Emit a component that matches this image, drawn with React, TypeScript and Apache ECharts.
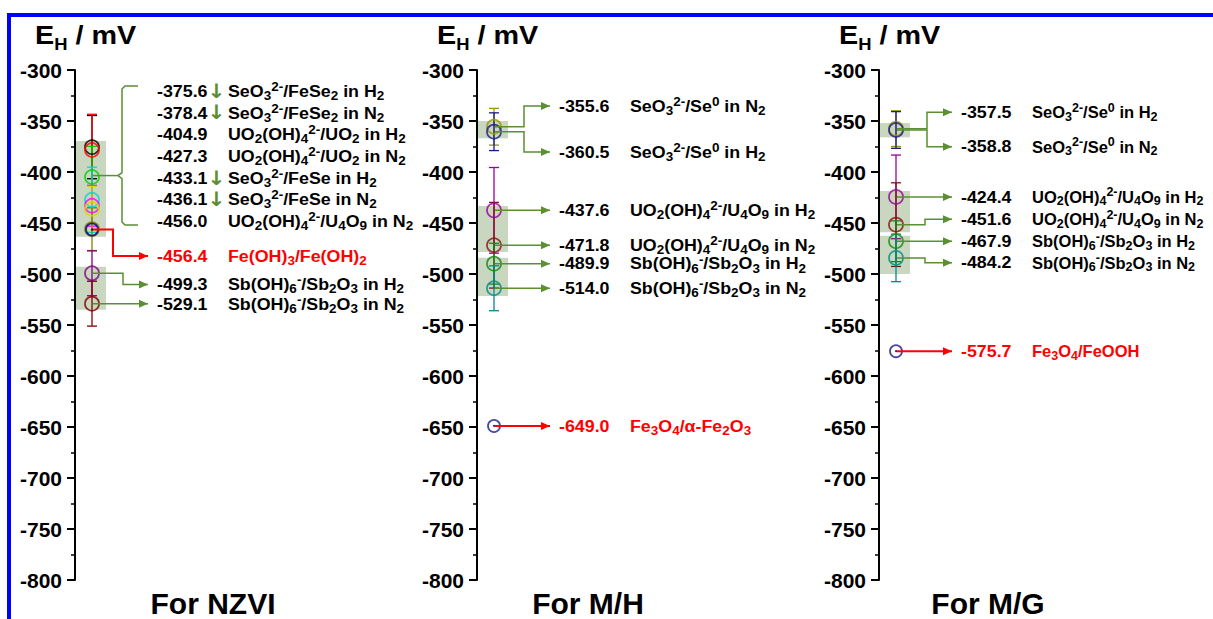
import { useEffect, useRef } from 'react';
import * as echarts from 'echarts';

// ---------- data ----------
const axisMin = -800;
const axisMax = -300;
const axisStep = 50;

const panelNames = ['For NZVI', 'For M/H', 'For M/G'];

// NZVI
const nzviValues = [-375.6, -378.4, -404.9, -427.3, -433.1, -436.1, -456.0, -456.4, -499.3, -529.1];
const nzviErrors = [31, 35, 30, 32, 20, 22, 21, 0, 22, 22];
const nzviCouples = [
  'SeO{b|3}{p|2-}/FeSe{b|2} in H{b|2}',
  'SeO{b|3}{p|2-}/FeSe{b|2} in N{b|2}',
  'UO{b|2}(OH){b|4}{p|2-}/UO{b|2} in H{b|2}',
  'UO{b|2}(OH){b|4}{p|2-}/UO{b|2} in N{b|2}',
  'SeO{b|3}{p|2-}/FeSe in H{b|2}',
  'SeO{b|3}{p|2-}/FeSe in N{b|2}',
  'UO{b|2}(OH){b|4}{p|2-}/U{b|4}O{b|9} in N{b|2}',
  'Fe(OH){b|3}/Fe(OH){b|2}',
  'Sb(OH){b|6}{p|-}/Sb{b|2}O{b|3} in H{b|2}',
  'Sb(OH){b|6}{p|-}/Sb{b|2}O{b|3} in N{b|2}',
];
const nzviDown = [true, true, false, false, true, true, false, false, false, false];
const nzviIron = [false, false, false, false, false, false, false, true, false, false];
const nzviColors = ['#000000', '#ff0000', '#00d000', '#00d8d8', '#ff00ff', '#d8d800', '#808000', '#000080', '#800080', '#800000'];

// M/H
const mhValues = [-355.6, -360.5, -437.6, -471.8, -489.9, -514.0, -649.0];
const mhErrors = [18, 18.5, 42, 42, 20, 22, 0];
const mhCouples = [
  'SeO{b|3}{p|2-}/Se{p|0} in N{b|2}',
  'SeO{b|3}{p|2-}/Se{p|0} in H{b|2}',
  'UO{b|2}(OH){b|4}{p|2-}/U{b|4}O{b|9} in H{b|2}',
  'UO{b|2}(OH){b|4}{p|2-}/U{b|4}O{b|9} in N{b|2}',
  'Sb(OH){b|6}{p|-}/Sb{b|2}O{b|3} in H{b|2}',
  'Sb(OH){b|6}{p|-}/Sb{b|2}O{b|3} in N{b|2}',
  'Fe{b|3}O{b|4}/α-Fe{b|2}O{b|3}',
];
const mhIron = [false, false, false, false, false, false, true];
const mhColors = ['#999900', '#1a1a8c', '#990099', '#8b1010', '#128a12', '#008b8b', '#1a1a8c'];

// M/G
const mgValues = [-357.5, -358.8, -424.4, -451.6, -467.9, -484.2, -575.7];
const mgErrors = [17.5, 18, 41, 41, 20, 23.3, 0];
const mgCouples = [
  'SeO{b|3}{p|2-}/Se{p|0} in H{b|2}',
  'SeO{b|3}{p|2-}/Se{p|0} in N{b|2}',
  'UO{b|2}(OH){b|4}{p|2-}/U{b|4}O{b|9} in H{b|2}',
  'UO{b|2}(OH){b|4}{p|2-}/U{b|4}O{b|9} in N{b|2}',
  'Sb(OH){b|6}{p|-}/Sb{b|2}O{b|3} in H{b|2}',
  'Sb(OH){b|6}{p|-}/Sb{b|2}O{b|3} in N{b|2}',
  'Fe{b|3}O{b|4}/FeOOH',
];
const mgIron = [false, false, false, false, false, false, true];
const mgColors = ['#999900', '#1a1a8c', '#990099', '#8b1010', '#128a12', '#008b8b', '#1a1a8c'];

// ---------- layout (mV rows for the label texts, shaded bands) ----------
const nzviRows = [-320.6, -341.9, -363.1, -384.4, -405.7, -427.0, -448.0, -482.4, -510.3, -529.4];
const nzviJunctions = [null, null, null, null, null, null, null, 38, 48, null];
const nzviBands = [[-369.6, -463.4], [-493, -535]];
const nzviBrace = { count: 7, top: -315.7, mid: -403.5, bottom: -452, spine: 47, cusp: 43, end: 63 };

const mhRows = [-335.3, -380.4, -437.6, -471.8, -489.9, -514.0, -649.0];
const mhJunctions = [47, 47, null, null, null, null, null];
const mhBands = [[-350, -367], [-433.3, -478.4], [-484, -521.6]];

const mgRows = [-341.5, -375.2, -424.4, -446.4, -467.9, -488.9, -575.7];
const mgJunctions = [48, 48, null, 46, null, 46, null];
const mgBands = [[-352, -366], [-418.6, -459], [-462.5, -500]];

const FONT = 'Arial, "Liberation Sans", Helvetica, sans-serif';
const GREEN = '#5a8f32';
const RED = '#ff0000';
const BAND = '#c9d7c0';

const GRID_LEFT = [75, 477, 879];
const GRID_TOP = 70;
const GRID_H = 510;
const GRID_W = 330;
const POINT_X = 17;
const BAND_X0 = 1;
const BAND_X1 = 31;
const START_X = 18;
const TIP_X = 73;
const VALUE_X = 82;
const NAME_X = 153;
const TITLE_X = [213, 588, 988];
const NAME_SCALE = [1.08, 1.08, 1.0];

type Panel = {
  values: number[]; errors: number[]; couples: string[]; colors: string[];
  down: boolean[]; iron: boolean[]; rows: number[]; junctions: (number | null)[];
  bands: number[][]; brace?: typeof nzviBrace;
};

const panels: Panel[] = [
  { values: nzviValues, errors: nzviErrors, couples: nzviCouples, colors: nzviColors, down: nzviDown, iron: nzviIron, rows: nzviRows, junctions: nzviJunctions, bands: nzviBands, brace: nzviBrace },
  { values: mhValues, errors: mhErrors, couples: mhCouples, colors: mhColors, down: mhValues.map(() => false), iron: mhIron, rows: mhRows, junctions: mhJunctions, bands: mhBands },
  { values: mgValues, errors: mgErrors, couples: mgCouples, colors: mgColors, down: mgValues.map(() => false), iron: mgIron, rows: mgRows, junctions: mgJunctions, bands: mgBands },
];

const rich: any = {
  b: { fontSize: 12.5, fontWeight: 'bold', fontFamily: FONT, lineHeight: 12, verticalAlign: 'bottom' },
  p: { fontSize: 12.5, fontWeight: 'bold', fontFamily: FONT, lineHeight: 12, verticalAlign: 'top' },
  g: { fontSize: 20, fontWeight: 'bold', fontFamily: '"DejaVu Sans", sans-serif', fill: GREEN, lineHeight: 22 },
};

type Conn = { pts: number[][]; color: string; width: number; arrow: boolean };

function connectorsFor(p: Panel): Conn[] {
  const list: Conn[] = [];
  p.values.forEach((v, i) => {
    if (p.brace && i < p.brace.count) return;
    const color = p.iron[i] ? RED : GREEN;
    const j = p.junctions[i];
    const row = p.rows[i];
    const pts = j == null
      ? [[START_X, v], [TIP_X, v]]
      : [[START_X, v], [j, v], [j, row], [TIP_X, row]];
    list.push({ pts, color, width: p.iron[i] ? 2 : 1.5, arrow: true });
  });
  if (p.brace) {
    const b = p.brace;
    list.push({
      pts: [[b.end, b.top], [b.spine + 3, b.top], [b.spine, b.top - 3], [b.spine, b.mid + 3], [b.cusp, b.mid], [b.spine, b.mid - 3], [b.spine, b.bottom + 3], [b.spine + 3, b.bottom], [b.end, b.bottom]],
      color: GREEN, width: 1.5, arrow: false,
    });
    list.push({ pts: [[START_X, b.mid], [b.cusp, b.mid]], color: GREEN, width: 1.5, arrow: false });
  }
  return list;
}

function buildOption() {
  const grid: any[] = [];
  const xAxis: any[] = [];
  const yAxis: any[] = [];
  const series: any[] = [];
  const graphic: any[] = [];

  graphic.push({
    type: 'rect', shape: { x: 9, y: 15, width: 1300, height: 700 },
    style: { fill: 'none', stroke: '#0000ff', lineWidth: 4 }, z: 100,
  });

  panels.forEach((p, k) => {
    grid.push({ left: GRID_LEFT[k], top: GRID_TOP, width: GRID_W, height: GRID_H });
    xAxis.push({ gridIndex: k, type: 'value', min: 0, max: GRID_W, show: false });
    yAxis.push({
      gridIndex: k, type: 'value', min: axisMin, max: axisMax, interval: axisStep,
      axisLine: { show: true, lineStyle: { color: '#000', width: 2 } },
      axisTick: { show: true, length: 8, lineStyle: { color: '#000', width: 2 } },
      minorTick: { show: true, splitNumber: 2, length: 4, lineStyle: { color: '#000', width: 1.5 } },
      splitLine: { show: false },
      minorSplitLine: { show: false },
      axisLabel: { color: '#000', fontSize: 21, fontWeight: 'bold', fontFamily: FONT, margin: 13 },
    });

    // shaded bands
    series.push({
      type: 'custom', xAxisIndex: k, yAxisIndex: k, z: 1,
      data: p.bands.map((b) => [BAND_X0, b[0]]),
      renderItem: (params: any, api: any) => {
        const b = p.bands[params.dataIndex];
        const a = api.coord([BAND_X0, b[0]]);
        const c = api.coord([BAND_X1, b[1]]);
        return { type: 'rect', shape: { x: a[0], y: a[1], width: c[0] - a[0], height: c[1] - a[1] }, style: { fill: BAND } };
      },
    });

    // error bars
    series.push({
      type: 'custom', xAxisIndex: k, yAxisIndex: k, z: 2,
      data: p.values.map((v) => [POINT_X, v]),
      renderItem: (params: any, api: any) => {
        const i = params.dataIndex;
        const v = p.values[i];
        const e = p.errors[i];
        const col = p.colors[i];
        const c = api.coord([POINT_X, v]);
        if (e <= 0) {
          return { type: 'circle', shape: { cx: c[0], cy: c[1], r: 1 }, style: { fill: col } };
        }
        const t = api.coord([POINT_X, v + e]);
        const bt = api.coord([POINT_X, v - e]);
        const hw = c[0] - api.coord([POINT_X - 5, v])[0];
        const st = { stroke: col, lineWidth: 1.3 };
        return {
          type: 'group',
          children: [
            { type: 'line', shape: { x1: t[0], y1: t[1], x2: bt[0], y2: bt[1] }, style: st },
            { type: 'line', shape: { x1: t[0] - hw, y1: t[1], x2: t[0] + hw, y2: t[1] }, style: st },
            { type: 'line', shape: { x1: bt[0] - hw, y1: bt[1], x2: bt[0] + hw, y2: bt[1] }, style: st },
          ],
        };
      },
    });

    // circles
    series.push({
      type: 'scatter', xAxisIndex: k, yAxisIndex: k, z: 3,
      data: p.values.map((v, i) => ({
        value: [POINT_X, v],
        symbolSize: p.errors[i] > 0 ? 14 : 12,
        itemStyle: { color: 'rgba(0,0,0,0)', borderColor: p.colors[i], borderWidth: 1.8 },
      })),
      symbol: 'circle',
      silent: true,
    });

    // connectors / brace
    const conns = connectorsFor(p);
    series.push({
      type: 'custom', xAxisIndex: k, yAxisIndex: k, z: 4,
      data: conns.map((c) => c.pts[0]),
      renderItem: (params: any, api: any) => {
        const c = conns[params.dataIndex];
        const pts = c.pts.map((pt) => api.coord(pt));
        const children: any[] = [
          { type: 'polyline', shape: { points: pts }, style: { stroke: c.color, lineWidth: c.width, fill: 'none' } },
        ];
        if (c.arrow) {
          const [tx, ty] = pts[pts.length - 1];
          children.push({ type: 'polygon', shape: { points: [[tx, ty], [tx - 9, ty - 4], [tx - 9, ty + 4]] }, style: { fill: c.color } });
        }
        return { type: 'group', children };
      },
    });

    // labels
    series.push({
      type: 'custom', xAxisIndex: k, yAxisIndex: k, z: 5,
      data: p.rows.map((r) => [VALUE_X, r]),
      renderItem: (params: any, api: any) => {
        const i = params.dataIndex;
        const a = api.coord([VALUE_X, p.rows[i]]);
        const b = api.coord([NAME_X, p.rows[i]]);
        const fill = p.iron[i] ? RED : '#000';
        const base = { fill, fontSize: 16.5, fontWeight: 'bold', fontFamily: FONT, lineHeight: 22, align: 'left', verticalAlign: 'middle', rich };
        const valueText = p.values[i].toFixed(1) + (p.down[i] ? '{g|↓}' : '');
        return {
          type: 'group',
          children: [
            { type: 'text', x: a[0], y: a[1], scaleX: 1.08, style: { ...base, text: valueText } },
            { type: 'text', x: b[0], y: b[1], scaleX: NAME_SCALE[k], style: { ...base, text: p.couples[i] } },
          ],
        };
      },
    });

    // axis title and panel name
    graphic.push({
      type: 'text', x: GRID_LEFT[k] - 40, y: 36, scaleX: 1.15,
      style: {
        text: 'E{s|H} / mV', fill: '#000', fontSize: 25, fontWeight: 'bold', fontFamily: FONT,
        lineHeight: 32, align: 'left', verticalAlign: 'middle',
        rich: { s: { fontSize: 16, fontWeight: 'bold', fontFamily: FONT, lineHeight: 16, verticalAlign: 'bottom' } },
      },
    });
    graphic.push({
      type: 'text', x: TITLE_X[k], y: 603,
      style: { text: panelNames[k], fill: '#000', fontSize: 30, fontWeight: 'bold', fontFamily: FONT, align: 'center', verticalAlign: 'middle' },
    });
  });

  return { animation: false, backgroundColor: '#fff', grid, xAxis, yAxis, series, graphic };
}

export default function App() {
  const ref = useRef<HTMLDivElement>(null);
  useEffect(() => {
    if (!ref.current) return;
    const chart = echarts.init(ref.current, undefined, { renderer: 'svg' });
    chart.setOption(buildOption() as any);
    return () => chart.dispose();
  }, []);
  return <div ref={ref} style={{ position: 'absolute', left: 0, top: 0, width: 1213, height: 619 }} />;
}
